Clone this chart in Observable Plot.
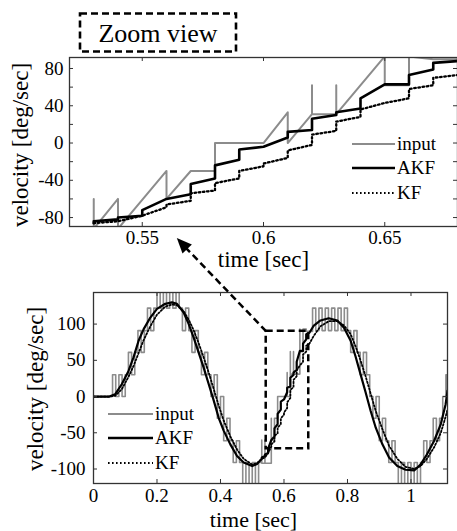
<!DOCTYPE html>
<html><head><meta charset="utf-8">
<script src="https://cdn.jsdelivr.net/npm/d3@7"></script>
<script src="https://cdn.jsdelivr.net/npm/@observablehq/plot@0.6"></script>
<style>
html,body{margin:0;padding:0;background:#fff;}
#wrap{position:relative;width:457px;height:531px;overflow:hidden;font-family:"Liberation Serif","DejaVu Serif","Noto Serif","Times New Roman",Times,serif;}
#top,#bottom{position:absolute;left:0;}
#top{top:0;} #bottom{top:270px;}
#overlay{position:absolute;left:0;top:0;pointer-events:none;}
</style></head><body>
<div id="wrap"><div id="top"></div><div id="bottom"></div><svg id="overlay" width="457" height="531"></svg></div>
<script>
// ---------- data: [time (sec), velocity (deg/sec)] ----------
const seriesNames = ["input", "AKF", "KF"];

const inputPts = [
  [0,0],[0.05,0],[0.06,30],[0.07,0],[0.08,30],[0.09,0],[0.10,30],[0.11,61],[0.12,30],[0.13,61],
  [0.14,91],[0.15,61],[0.16,91],[0.17,122],[0.18,91],[0.19,122],[0.20,152],[0.21,122],[0.22,152],
  [0.23,122],[0.24,152],[0.25,122],[0.26,152],[0.27,122],[0.28,91],[0.29,122],[0.30,91],[0.31,61],
  [0.32,91],[0.33,61],[0.34,30],[0.35,61],[0.36,30],[0.37,0],[0.38,30],[0.39,-30],[0.40,0],
  [0.41,-61],[0.42,-30],[0.43,-61],[0.44,-91],[0.45,-61],[0.46,-91],[0.47,-122],[0.48,-91],
  [0.49,-122],[0.50,-91],[0.51,-122],[0.52,-91],
  [0.53,-60],[0.53,-92],[0.54,-60],[0.54,-92],[0.56,-30],[0.56,-60],[0.57,-30],[0.58,-30],[0.58,0],
  [0.60,0],[0.61,33],[0.61,0],[0.62,31],[0.62,62],[0.62,31],[0.63,31],[0.63,62],[0.63,31],[0.65,93],
  [0.65,62],[0.66,62],[0.66,93],[0.67,90],[0.68,90],
  [0.69,122],[0.70,91],[0.71,122],[0.72,91],[0.73,122],[0.74,91],[0.75,122],[0.76,91],[0.77,122],
  [0.78,91],[0.79,122],[0.80,91],[0.81,61],[0.82,91],[0.83,61],[0.84,30],[0.85,61],[0.86,30],
  [0.87,0],[0.88,-30],[0.89,0],[0.90,-61],[0.91,-30],[0.92,-61],[0.93,-91],[0.94,-61],[0.95,-91],
  [0.96,-122],[0.97,-91],[0.98,-122],[0.99,-91],[1.00,-122],[1.01,-91],[1.02,-122],[1.03,-91],
  [1.04,-61],[1.05,-91],[1.06,-61],[1.07,-30],[1.08,-61],[1.09,-30],[1.10,0],[1.11,30],[1.115,0]
];

const akfPts = [
  [0,0],[0.05,0],[0.068,3],[0.089,17],[0.11,35],[0.126,54],[0.142,77],[0.158,93],[0.179,109],
  [0.2,121],[0.226,128],[0.247,130],[0.263,128],[0.284,116],[0.3,100],[0.315,82],[0.331,61],
  [0.347,40],[0.363,17],[0.379,-6],[0.394,-29],[0.41,-47],[0.431,-66],[0.452,-82],[0.473,-91],
  [0.5,-96],[0.515,-93],
  [0.53,-86],[0.53,-84],[0.54,-82],[0.54,-80],[0.55,-78],[0.55,-72],[0.56,-60],[0.57,-55],
  [0.57,-44],[0.58,-38],[0.58,-24],[0.59,-18],[0.59,-7],[0.60,-4],[0.61,6],[0.61,12],[0.62,14],
  [0.62,26],[0.63,30],[0.63,33],[0.64,37],[0.64,48],[0.65,63],[0.66,63],[0.66,73],[0.67,79],
  [0.67,86],[0.68,88],
  [0.694,98],[0.715,105],[0.741,108],[0.768,105],[0.789,95],[0.81,77],[0.825,56],[0.841,31],
  [0.857,6],[0.873,-20],[0.889,-43],[0.91,-66],[0.931,-84],[0.957,-96],[0.983,-101],[1.01,-102],
  [1.03,-94],[1.05,-80],[1.073,-61],[1.094,-38],[1.109,-11],[1.115,8]
];

const kfPts = [
  [0,0],[0.05,0],[0.068,1],[0.089,10],[0.11,27],[0.126,42],[0.142,60],[0.158,78],[0.179,97],
  [0.2,113],[0.226,124],[0.247,127],[0.263,126],[0.284,118],[0.3,106],[0.315,92],[0.331,74],
  [0.347,54],[0.363,33],[0.379,10],[0.394,-12],[0.41,-33],[0.431,-55],[0.452,-73],[0.473,-86],
  [0.5,-94],[0.515,-92],
  [0.53,-86],[0.54,-84],[0.55,-78],[0.56,-69],[0.56,-66],[0.57,-62],[0.57,-54],[0.58,-51],
  [0.58,-43],[0.59,-38],[0.59,-30],[0.60,-25],[0.60,-22],[0.61,-16],[0.61,-8],[0.62,-2],[0.62,9],
  [0.63,13],[0.63,23],[0.64,28],[0.64,36],[0.65,43],[0.66,48],[0.66,58],[0.67,62],[0.67,70],[0.68,73],
  [0.694,84],[0.715,97],[0.741,104],[0.768,104],[0.789,98],[0.81,86],[0.825,70],[0.841,50],
  [0.857,28],[0.873,4],[0.889,-20],[0.91,-45],[0.931,-68],[0.957,-86],[0.983,-97],[1.01,-100],
  [1.03,-96],[1.05,-86],[1.073,-70],[1.094,-50],[1.109,-28],[1.115,-18]
];

// zoom window (bottom-panel data coords) and the arrow pointing to the zoom view
const zoomBox = {t1: 0.544, t2: 0.678, v1: -72, v2: 90};
const zoomStart = 0.53;
const arrowLine = {t1: 0.544, v1: 90, t2: 0.285, v2: 208};
const arrowTip = {t: 0.264, v: 218};

// ticks
const topXTicks = [0.55, 0.6, 0.65];
const topYTicks = [-80, -40, 0, 40, 80];
const topYMinor = [-80, -60, -40, -20, 0, 20, 40, 60, 80];
const botXTicks = [0, 0.2, 0.4, 0.6, 0.8, 1];
const botYTicks = [-100, -50, 0, 50, 100];

// ---------- drawing ----------
const serif = '"Liberation Serif","DejaVu Serif","Noto Serif","Times New Roman",Times,serif';
const GRAY = "#8c8c8c";
const AX = "#333";
const fmt = d => String(d);
const inZoom = p => p[0] >= zoomStart;
const BOT_TOP = 270;

// top panel (zoom view)
{
  const W = 457, H = 270, mt = 57, mb = 44, ml = 69, mr = 0;
  const fw = W - ml - mr, fh = H - mt - mb, tk = 4;
  const chart = Plot.plot({
    width: W, height: H, marginTop: mt, marginBottom: mb, marginLeft: ml, marginRight: mr,
    style: {fontFamily: serif, fontSize: "19px", background: "transparent", overflow: "visible", color: "#000"},
    x: {domain: [0.52, 0.68], ticks: topXTicks, tickSize: 0, tickPadding: 4, tickFormat: fmt, label: null},
    y: {domain: [-89.6, 91.8], ticks: topYTicks, tickSize: 0, tickPadding: 6, tickFormat: fmt, label: null},
    marks: [
      Plot.line(inputPts.filter(inZoom), {stroke: GRAY, strokeWidth: 2, clip: true}),
      Plot.line(kfPts.filter(inZoom), {stroke: "#000", strokeWidth: 2.3, strokeDasharray: "1.6 2.6", clip: true}),
      Plot.line(akfPts.filter(inZoom), {stroke: "#000", strokeWidth: 2.6, clip: true}),
      Plot.tickY(topYMinor, {y: d => d, insetRight: fw - tk, stroke: AX}),
      Plot.tickY(topYMinor, {y: d => d, insetLeft: fw - tk, stroke: AX}),
      Plot.tickX(topXTicks, {x: d => d, insetTop: fh - tk, stroke: AX}),
      Plot.tickX(topXTicks, {x: d => d, insetBottom: fh - tk, stroke: AX}),
      Plot.frame({stroke: AX, strokeWidth: 1.3}),
      Plot.text(["time [sec]"], {frameAnchor: "bottom", textAnchor: "middle", lineAnchor: "middle", dy: 33, fontSize: 23}),
      Plot.text(["velocity [deg/sec]"], {frameAnchor: "left", textAnchor: "middle", lineAnchor: "middle", rotate: -90, dx: -49, dy: 3, fontSize: 23})
    ]
  });
  document.getElementById("top").appendChild(chart);
}

// bottom panel (full view)
let botX, botY;
{
  const W = 457, H = 261, mt = 22, mb = 48, ml = 93, mr = 10;
  const fw = W - ml - mr, fh = H - mt - mb, tk = 4;
  const chart = Plot.plot({
    width: W, height: H, marginTop: mt, marginBottom: mb, marginLeft: ml, marginRight: mr,
    style: {fontFamily: serif, fontSize: "19px", background: "transparent", overflow: "visible", color: "#000"},
    x: {domain: [0, 1.115], ticks: botXTicks, tickSize: 0, tickPadding: 5, tickFormat: fmt, label: null},
    y: {domain: [-120, 143.6], ticks: botYTicks, tickSize: 0, tickPadding: 8, tickFormat: fmt, label: null},
    marks: [
      Plot.line(inputPts, {stroke: GRAY, strokeWidth: 1.6, curve: "step-after", clip: true}),
      Plot.line(kfPts, {stroke: "#000", strokeWidth: 1.8, strokeDasharray: "1.5 2", clip: true}),
      Plot.line(akfPts, {stroke: "#000", strokeWidth: 2.2, clip: true}),
      Plot.tickY(botYTicks, {y: d => d, insetRight: fw - tk, stroke: AX}),
      Plot.tickY(botYTicks, {y: d => d, insetLeft: fw - tk, stroke: AX}),
      Plot.tickX(botXTicks, {x: d => d, insetTop: fh - tk, stroke: AX}),
      Plot.tickX(botXTicks, {x: d => d, insetBottom: fh - tk, stroke: AX}),
      Plot.frame({stroke: AX, strokeWidth: 1.3}),
      Plot.rect([zoomBox], {x1: "t1", x2: "t2", y1: "v1", y2: "v2", fill: "none", stroke: "#000", strokeWidth: 2.5, strokeDasharray: "7 4"}),
      Plot.link([arrowLine], {x1: "t1", y1: "v1", x2: "t2", y2: "v2", stroke: "#000", strokeWidth: 2.5, strokeDasharray: "7 4"}),
      Plot.text(["time [sec]"], {frameAnchor: "bottom", textAnchor: "middle", lineAnchor: "middle", dx: -17, dy: 36, fontSize: 22}),
      Plot.text(["velocity [deg/sec]"], {frameAnchor: "left", textAnchor: "middle", lineAnchor: "middle", rotate: -90, dx: -58, dy: 1, fontSize: 23})
    ]
  });
  document.getElementById("bottom").appendChild(chart);
  botX = chart.scale("x"); botY = chart.scale("y");
}

// overlay: "Zoom view" label, arrowhead and legends
{
  const ov = d3.select("#overlay").style("font-family", serif);
  ov.append("rect").attr("x", 80).attr("y", 13.5).attr("width", 156).attr("height", 38)
    .attr("fill", "none").attr("stroke", "#000").attr("stroke-width", 2.6).attr("stroke-dasharray", "7 4");
  ov.append("text").attr("x", 158).attr("y", 42).attr("text-anchor", "middle")
    .style("font-size", "26px").text("Zoom view");

  // filled arrowhead, positioned through the bottom panel's scales
  const tx = botX.apply(arrowTip.t), ty = botY.apply(arrowTip.v) + BOT_TOP;
  const bx = botX.apply(arrowLine.t1), by = botY.apply(arrowLine.v1) + BOT_TOP;
  const len = Math.hypot(bx - tx, by - ty), ux = (bx - tx) / len, uy = (by - ty) / len;
  const L = 15, Wd = 6.5;
  const cx = tx + ux * L, cy = ty + uy * L;
  ov.append("path")
    .attr("d", `M${tx},${ty}L${cx - uy * Wd},${cy + ux * Wd}L${cx + uy * Wd},${cy - ux * Wd}Z`)
    .attr("fill", "#000");

  const styles = [
    {stroke: GRAY, w: 2, dash: null},
    {stroke: "#000", w: 2.6, dash: null},
    {stroke: "#000", w: 2, dash: "1.6 2.4"}
  ];
  function legend(x0, x1, ys) {
    seriesNames.forEach((name, i) => {
      const s = styles[i];
      const l = ov.append("line").attr("x1", x0).attr("x2", x1).attr("y1", ys[i]).attr("y2", ys[i])
        .attr("stroke", s.stroke).attr("stroke-width", s.w);
      if (s.dash) l.attr("stroke-dasharray", s.dash);
      ov.append("text").attr("x", x1 + 2).attr("y", ys[i]).attr("dy", "0.33em")
        .style("font-size", "19px").text(name);
    });
  }
  legend(352, 395, [144, 168, 193]);
  legend(108, 153, [414, 438, 463]);
}
</script>
</body></html>
